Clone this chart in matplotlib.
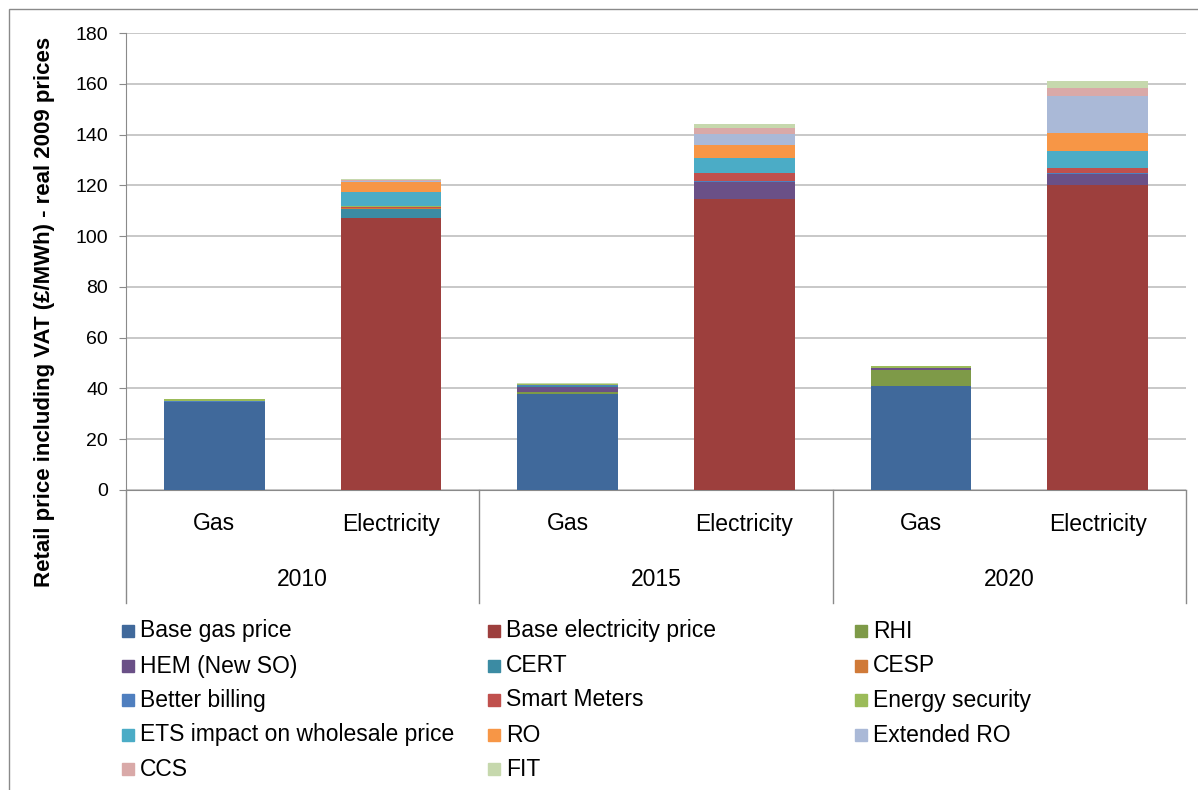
import matplotlib
matplotlib.use('Agg')
import matplotlib.pyplot as plt
from matplotlib.patches import Rectangle
import numpy as np

plt.rcParams['font.family'] = ['Liberation Sans', 'DejaVu Sans']

# Barres : Gaz / Électricité pour 2010, 2015, 2020
years = ['2010', '2015', '2020']
fuels = ['Gas', 'Electricity']

# Composantes du prix de détail (£/MWh), une valeur par barre
# ordre : Gas 2010, Elec 2010, Gas 2015, Elec 2015, Gas 2020, Elec 2020
series_names = [
    'Base gas price', 'Base electricity price', 'RHI', 'HEM (New SO)',
    'CERT', 'CESP', 'Better billing', 'Smart Meters', 'Energy security',
    'ETS impact on wholesale price', 'RO', 'Extended RO', 'CCS', 'FIT',
]
base_gas = [34.7, 0, 37.8, 0, 41.1, 0]
base_elec = [0, 107.0, 0, 114.5, 0, 120.1]
rhi = [0, 0, 0.9, 0, 6.2, 0]
hem = [0, 0, 1.7, 6.8, 0.7, 4.2]
cert = [0, 3.8, 0.4, 0, 0, 0]
cesp = [0, 0.3, 0.2, 0, 0, 0]
better_billing = [0.3, 0.0, 0.3, 0.3, 0.1, 0.4]
smart_meters = [0, 0.3, 0, 3.1, 0, 2.2]
energy_security = [0.7, 0.6, 0.4, 0, 0.8, 0]
ets = [0, 5.5, 0, 6.2, 0, 6.7]
ro = [0, 3.9, 0, 4.8, 0, 7.0]
extended_ro = [0, 0.4, 0, 4.7, 0, 14.7]
ccs = [0, 0.3, 0, 2.1, 0, 3.2]
fit = [0, 0.5, 0.3, 1.6, 0, 2.6]

series = [base_gas, base_elec, rhi, hem, cert, cesp, better_billing,
          smart_meters, energy_security, ets, ro, extended_ro, ccs, fit]
colors = ['#40699B', '#9D3F3D', '#7E9A48', '#6A5087', '#3B8BA3', '#D07A38',
          '#4F7FBF', '#C0504D', '#9BBB59', '#4BACC6', '#F79646', '#AAB9D7',
          '#D9A9A8', '#C6D8AD']

W, H = 1198, 790
fig = plt.figure(figsize=(W / 100, H / 100), dpi=100)

# cadre extérieur
fig.add_artist(Rectangle((9 / W, -0.1), 1.2, (H - 9) / H + 0.1,
                         transform=fig.transFigure, fill=False,
                         edgecolor='#8A8A8A', lw=1))

ax = fig.add_axes([126 / W, (H - 490) / H, 1060 / W, 457 / H])

x = np.arange(len(base_gas))
bottom = np.zeros(len(x))
for name, vals, c in zip(series_names, series, colors):
    ax.bar(x, vals, width=0.57, bottom=bottom, color=c, label=name, zorder=3)
    bottom += np.array(vals)

ax.set_xlim(-0.5, 5.5)
ax.set_ylim(0, 180)
ax.set_yticks(np.arange(0, 181, 20))
ax.tick_params(axis='y', labelsize=14, length=5, color='#8A8A8A', pad=8)
ax.set_xticks([])
ax.grid(axis='y', color='#C4C4C4', lw=1.3, zorder=0)
for s in ['top', 'right']:
    ax.spines[s].set_visible(False)
for s in ['left', 'bottom']:
    ax.spines[s].set_color('#8A8A8A')

# titre de l'axe y, centré sur la hauteur graphique + catégories
fig.text(45 / W, (H - 312) / H,
         'Retail price including VAT (£/MWh) - real 2009 prices',
         rotation=90, ha='center', va='center', fontsize=16,
         fontweight='bold')

# axe des catégories sur deux niveaux
tr = ax.get_xaxis_transform()
sep_depth = -113 / 457
for xs in [-0.5, 1.5, 3.5, 5.5]:
    ax.plot([xs, xs], [0, sep_depth], transform=tr, color='#8A8A8A',
            lw=1, clip_on=False)
for i in x:
    ax.text(i, -34 / 457, fuels[i % 2], transform=tr, ha='center',
            va='center', fontsize=16.5)
for j, yr in enumerate(years):
    ax.text(2 * j + 0.5, -90 / 457, yr, transform=tr, ha='center',
            va='center', fontsize=16.5)

# légende sur trois colonnes, remplie par lignes
col_x = [122, 488, 855]
row_y = [631, 666, 700, 735, 769]
for k, (name, c) in enumerate(zip(series_names, colors)):
    cx = col_x[k % 3]
    cy = row_y[k // 3]
    fig.add_artist(Rectangle((cx / W, (H - cy - 6) / H), 12 / W, 12 / H,
                             transform=fig.transFigure, color=c))
    fig.text((cx + 18) / W, (H - cy) / H, name, ha='left', va='center',
             fontsize=16.5)

fig.savefig('out.png', dpi=100)
